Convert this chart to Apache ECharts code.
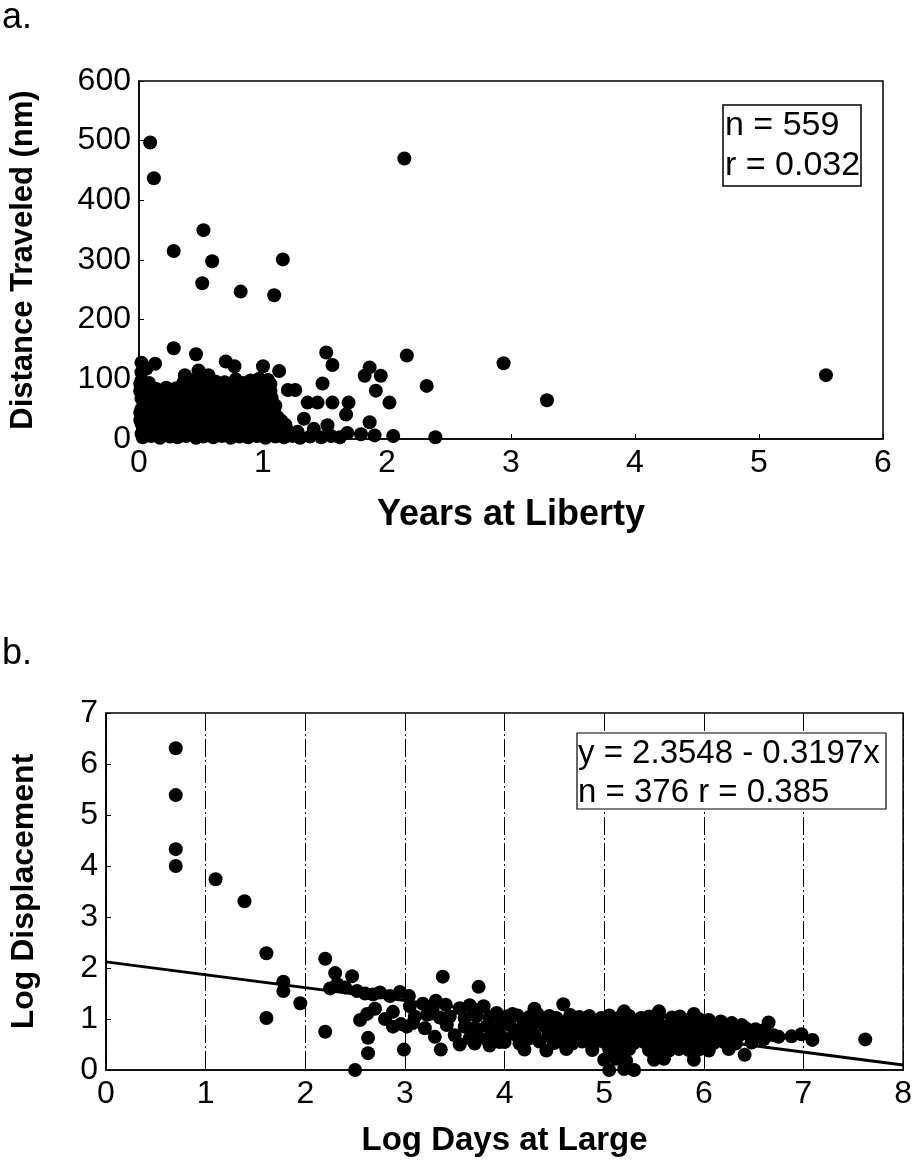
<!DOCTYPE html>
<html>
<head>
<meta charset="utf-8">
<script src="https://cdn.jsdelivr.net/npm/echarts@6/dist/echarts.min.js"></script>
<style>
  html, body { margin: 0; padding: 0; background: #fff; }
  #chart { width: 915px; height: 1166px; }
</style>
</head>
<body>
<div id="chart"></div>
<script>
// panel a: years at liberty vs distance traveled (nm)
const yearsTicksA = [0, 1, 2, 3, 4, 5, 6];
const distTicksA = [0, 100, 200, 300, 400, 500, 600];

const outliersA = [
  [0.09, 497], [0.12, 437], [2.14, 470], [0.52, 350], [0.28, 315], [0.59, 298],
  [1.16, 301], [0.51, 261], [0.82, 247], [1.09, 241], [0.28, 152], [0.46, 142],
  [1.51, 145], [1.56, 124], [2.16, 140], [0.13, 126], [0.7, 130], [0.77, 122],
  [2.94, 127], [3.29, 65], [5.54, 107], [2.32, 89], [1.86, 120], [1.82, 106],
  [1.95, 106], [1.48, 93], [1.91, 81], [2.02, 61], [1.86, 28], [1.52, 23],
  [1.67, 41], [1.69, 61], [1.56, 61], [1.44, 61], [1.36, 61], [1.2, 82], [1.26, 82],
  [1.33, 34], [1.41, 17], [1.68, 10], [1.79, 8], [1.9, 6], [2.05, 5], [2.39, 3],
  [0.02, 128], [1.0, 122], [1.13, 114], [0.37, 107], [0.48, 115], [0.56, 107]
];

const denseA = [
  [0.03, 3], [0.1, 5], [0.17, 2], [0.25, 4], [0.31, 3], [0.38, 5], [0.46, 2], [0.52, 4],
  [0.6, 3], [0.67, 5], [0.74, 2], [0.81, 4], [0.88, 3], [0.95, 5], [1.02, 2], [1.1, 4],
  [1.17, 3], [1.24, 5], [1.3, 2], [1.38, 4], [1.47, 3], [1.55, 5], [1.62, 3],
  [0.02, 9], [0.09, 8], [0.14, 10], [0.21, 9], [0.29, 8], [0.34, 10], [0.43, 9], [0.5, 8],
  [0.57, 10], [0.64, 9], [0.71, 8], [0.77, 10], [0.85, 9], [0.91, 8], [0.98, 10],
  [1.05, 9], [1.14, 8], [1.21, 9],
  [0.06, 14], [0.13, 16], [0.2, 13], [0.27, 15], [0.35, 14], [0.42, 16], [0.49, 13],
  [0.56, 15], [0.63, 14], [0.7, 16], [0.78, 13], [0.85, 15], [0.92, 14], [0.99, 16],
  [1.06, 13], [1.13, 15], [1.2, 14], [1.28, 12],
  [0.03, 20], [0.1, 21], [0.18, 19], [0.23, 21], [0.32, 20], [0.39, 19], [0.46, 21],
  [0.53, 20], [0.59, 19], [0.67, 21], [0.74, 20], [0.82, 19], [0.89, 21], [0.94, 20],
  [1.01, 19], [1.08, 21], [1.15, 19],
  [0.02, 26], [0.09, 28], [0.16, 25], [0.24, 27], [0.3, 26], [0.37, 28], [0.45, 25],
  [0.53, 27], [0.6, 26], [0.66, 28], [0.73, 25], [0.8, 27], [0.88, 26], [0.96, 28],
  [1.03, 25], [1.1, 27], [1.18, 24],
  [0.01, 32], [0.07, 33], [0.14, 31], [0.22, 33], [0.28, 32], [0.35, 31], [0.43, 33],
  [0.5, 32], [0.57, 31], [0.64, 33], [0.71, 32], [0.78, 31], [0.85, 33], [0.93, 32],
  [1.0, 31], [1.08, 33], [1.15, 30],
  [0.05, 38], [0.12, 40], [0.19, 37], [0.26, 39], [0.33, 38], [0.41, 40], [0.48, 37],
  [0.55, 39], [0.62, 38], [0.69, 40], [0.76, 37], [0.83, 39], [0.9, 38], [0.97, 40],
  [1.05, 37], [1.12, 36],
  [0.01, 44], [0.08, 45], [0.15, 43], [0.22, 45], [0.29, 44], [0.36, 43], [0.44, 45],
  [0.51, 44], [0.59, 43], [0.66, 45], [0.73, 44], [0.8, 43], [0.87, 45], [0.95, 44],
  [1.02, 43], [1.09, 45],
  [0.02, 50], [0.1, 52], [0.17, 49], [0.23, 51], [0.3, 50], [0.38, 52], [0.44, 49],
  [0.51, 51], [0.58, 50], [0.65, 52], [0.72, 49], [0.79, 51], [0.86, 50], [0.93, 52],
  [1.0, 49], [1.07, 51],
  [0.04, 56], [0.11, 57], [0.18, 55], [0.26, 57], [0.33, 56], [0.4, 55], [0.47, 57],
  [0.54, 56], [0.61, 55], [0.68, 57], [0.75, 56], [0.82, 55], [0.89, 57], [0.96, 56],
  [1.03, 55], [1.1, 56],
  [0.06, 62], [0.13, 64], [0.21, 61], [0.28, 63], [0.35, 62], [0.42, 64], [0.5, 61],
  [0.57, 63], [0.63, 62], [0.7, 64], [0.77, 61], [0.84, 63], [0.91, 62], [0.98, 64],
  [1.05, 61],
  [0.02, 68], [0.09, 69], [0.16, 67], [0.23, 69], [0.3, 68], [0.37, 67], [0.45, 69],
  [0.52, 68], [0.59, 67], [0.66, 69], [0.73, 68], [0.8, 67], [0.87, 69], [0.94, 68],
  [1.01, 67], [1.07, 69],
  [0.03, 74], [0.1, 76], [0.17, 73], [0.24, 75], [0.33, 74], [0.4, 76], [0.47, 73],
  [0.55, 75], [0.62, 74], [0.68, 76], [0.75, 73], [0.82, 75], [0.9, 74], [0.96, 76],
  [1.03, 73],
  [0.01, 80], [0.08, 79], [0.19, 80], [0.27, 81], [0.35, 79], [0.42, 80], [0.5, 81],
  [0.57, 79], [0.64, 80], [0.71, 81], [0.79, 79], [0.86, 80], [0.93, 81], [1.0, 79],
  [1.06, 80],
  [0.05, 85], [0.14, 84], [0.22, 86], [0.3, 85], [0.38, 87], [0.45, 85], [0.52, 86],
  [0.6, 88], [0.67, 86], [0.74, 87], [0.87, 88], [0.93, 86], [1.0, 87],
  [0.02, 98], [0.43, 98], [0.49, 100], [0.62, 96], [0.78, 100], [0.9, 98], [0.97, 101],
  [1.04, 99], [0.02, 112], [0.06, 118], [0.01, 92], [0.08, 94], [0.36, 95], [0.55, 93],
  [0.69, 95], [0.84, 94], [1.06, 92]
];

// panel b: log days at large vs log displacement
const logDaysTicksB = [0, 1, 2, 3, 4, 5, 6, 7, 8];
const logDispTicksB = [0, 1, 2, 3, 4, 5, 6, 7];
const fitLineB = [[0, 2.12], [8, 0.1]];

const outliersB = [
  [0.7, 6.31], [0.7, 5.39], [0.7, 4.33], [0.7, 4.0], [1.1, 3.74], [1.39, 3.31],
  [1.61, 2.29], [1.61, 1.02], [2.2, 2.18], [2.2, 0.75], [1.78, 1.73], [1.78, 1.55],
  [1.95, 1.31], [2.3, 1.9], [2.47, 1.84], [3.38, 1.83], [3.74, 1.63], [2.63, 0.63],
  [2.63, 0.33], [2.99, 0.4], [3.36, 0.4], [2.55, 0.98], [2.88, 1.14], [2.5, 0.0],
  [4.59, 1.29], [6.65, 0.93], [6.98, 0.7], [7.09, 0.59], [7.62, 0.6], [6.41, 0.3],
  [6.75, 0.65], [6.88, 0.66]
];

const denseB = [
  [2.32, 1.68], [2.4, 1.62], [2.52, 1.55], [2.6, 1.5], [2.68, 1.48], [2.75, 1.52],
  [2.85, 1.45], [2.95, 1.53], [3.04, 1.45], [2.7, 1.2], [2.62, 1.1], [2.8, 1.0],
  [2.88, 0.85], [2.96, 0.9], [3.08, 0.92], [2.25, 1.6],
  [3.05, 1.25], [3.18, 1.3], [3.31, 1.36], [3.41, 1.28], [3.55, 1.21], [3.69, 1.19],
  [3.79, 1.25], [3.92, 1.12], [3.28, 1.22], [3.65, 1.27],
  [3.1, 1.05], [3.22, 1.08], [3.35, 1.03], [3.45, 1.05], [3.6, 1.02], [3.72, 1.06],
  [3.85, 1.04], [3.97, 1.0], [3.25, 1.1],
  [3.02, 0.85], [3.2, 0.82], [3.42, 0.88], [3.6, 0.85], [3.7, 0.83], [3.82, 0.86],
  [3.94, 0.84],
  [3.3, 0.65], [3.5, 0.68], [3.65, 0.62], [3.72, 0.72], [3.82, 0.6], [3.88, 0.66],
  [3.98, 0.64], [3.55, 0.5], [3.7, 0.52], [3.85, 0.48], [3.95, 0.55],
  [4.02, 1.05], [4.08, 1.1], [4.13, 1.07], [4.25, 1.04], [4.33, 1.1], [4.45, 1.06],
  [4.52, 1.02], [4.66, 1.08], [4.75, 1.04], [4.85, 1.06], [4.97, 1.02], [5.05, 1.07],
  [5.16, 1.04], [5.25, 1.06], [5.37, 1.02], [5.45, 1.05], [5.55, 1.08], [5.68, 1.03],
  [5.76, 1.05], [5.88, 1.02], [5.95, 1.0], [6.05, 0.98], [6.17, 0.95], [6.28, 0.92],
  [4.05, 0.88], [4.18, 0.85], [4.28, 0.9], [4.4, 0.86], [4.48, 0.88], [4.6, 0.84],
  [4.7, 0.9], [4.8, 0.86], [4.92, 0.88], [5.02, 0.85], [5.12, 0.89], [5.2, 0.86],
  [5.32, 0.88], [5.42, 0.84], [5.5, 0.9], [5.62, 0.86], [5.72, 0.88], [5.82, 0.85],
  [5.92, 0.89], [6.02, 0.86], [6.12, 0.88], [6.22, 0.84], [6.3, 0.86], [6.42, 0.82],
  [6.52, 0.8], [6.6, 0.78],
  [4.1, 0.7], [4.22, 0.72], [4.3, 0.68], [4.44, 0.71], [4.55, 0.69], [4.63, 0.72],
  [4.72, 0.68], [4.83, 0.7], [4.95, 0.72], [5.08, 0.68], [5.18, 0.71], [5.28, 0.69],
  [5.35, 0.72], [5.47, 0.68], [5.58, 0.7], [5.66, 0.72], [5.78, 0.68], [5.86, 0.7],
  [5.97, 0.72], [6.08, 0.68], [6.15, 0.7], [6.25, 0.72], [6.35, 0.68], [6.45, 0.7],
  [6.55, 0.66], [6.7, 0.68],
  [4.0, 0.55], [4.15, 0.52], [4.35, 0.56], [4.5, 0.53], [4.58, 0.55], [4.68, 0.52],
  [4.78, 0.56], [4.9, 0.53], [5.0, 0.55], [5.1, 0.52], [5.22, 0.56], [5.3, 0.53],
  [5.4, 0.55], [5.52, 0.52], [5.6, 0.56], [5.7, 0.53], [5.8, 0.55], [5.9, 0.52],
  [6.0, 0.56], [6.1, 0.53], [6.2, 0.55], [6.32, 0.52], [6.48, 0.54],
  [4.2, 0.4], [4.42, 0.38], [4.62, 0.41], [4.88, 0.39], [5.05, 0.4], [5.15, 0.38],
  [5.25, 0.41], [5.45, 0.39], [5.55, 0.4], [5.65, 0.38], [5.75, 0.41], [5.85, 0.39],
  [5.95, 0.4], [6.05, 0.38], [6.25, 0.41],
  [5.0, 0.2], [5.12, 0.22], [5.22, 0.18], [5.5, 0.2], [5.6, 0.22], [5.9, 0.2],
  [5.05, 0.0], [5.2, 0.02], [5.3, 0.0],
  [4.3, 1.2], [5.2, 1.15], [5.55, 1.15], [5.9, 1.1],
  [4.38, 0.96], [4.56, 0.95], [4.78, 0.96], [5.07, 0.95], [5.28, 0.97], [5.52, 0.96],
  [5.71, 0.95], [5.98, 0.94], [6.2, 0.9], [6.38, 0.88],
  [4.25, 0.62], [4.48, 0.61], [4.74, 0.62], [4.98, 0.63], [5.2, 0.62], [5.44, 0.63],
  [5.64, 0.61], [5.84, 0.63], [6.05, 0.62], [6.28, 0.61], [6.6, 0.6]
];

const chart = echarts.init(document.getElementById('chart'));

const font = 'Liberation Sans, Arial, sans-serif';
const tickLabel = { color: '#000', fontSize: 32, fontFamily: font, margin: 8 };
const nameStyle = (size) => ({ color: '#000', fontSize: size, fontWeight: 'bold', fontFamily: font });
const axisLine = { show: true, lineStyle: { color: '#000', width: 1.5 } };
const axisTick = { show: true, inside: true, length: 5, lineStyle: { color: '#000' } };
const dot = { color: '#000', opacity: 1 };

const option = {
  animation: false,
  backgroundColor: '#fff',
  grid: [
    { left: 138, top: 81, right: 32, bottom: 727, show: true, borderColor: '#000', borderWidth: 1.5 },
    { left: 106, top: 713, right: 10, bottom: 96, show: true, borderColor: '#000', borderWidth: 1.5 }
  ],
  xAxis: [
    {
      gridIndex: 0, type: 'value', min: yearsTicksA[0], max: yearsTicksA[yearsTicksA.length - 1], interval: 1,
      name: 'Years at Liberty', nameLocation: 'middle', nameGap: 58, nameTextStyle: nameStyle(36),
      axisLine, axisTick, axisLabel: tickLabel, splitLine: { show: false }
    },
    {
      gridIndex: 1, type: 'value', min: logDaysTicksB[0], max: logDaysTicksB[logDaysTicksB.length - 1], interval: 1,
      name: 'Log Days at Large', nameLocation: 'middle', nameGap: 54, nameTextStyle: nameStyle(33),
      axisLine, axisTick, axisLabel: tickLabel,
      splitLine: { show: true, lineStyle: { color: '#000', width: 1, type: [18, 3, 2, 3] } }
    }
  ],
  yAxis: [
    {
      gridIndex: 0, type: 'value', min: distTicksA[0], max: distTicksA[distTicksA.length - 1], interval: 100,
      name: 'Distance Traveled (nm)', nameLocation: 'middle', nameGap: 100, nameTextStyle: nameStyle(31),
      axisLine, axisTick, axisLabel: tickLabel, splitLine: { show: false }
    },
    {
      gridIndex: 1, type: 'value', min: logDispTicksB[0], max: logDispTicksB[logDispTicksB.length - 1], interval: 1,
      name: 'Log Displacement', nameLocation: 'middle', nameGap: 66, nameTextStyle: nameStyle(32),
      axisLine, axisTick, axisLabel: tickLabel, splitLine: { show: false }
    }
  ],
  series: [
    { type: 'scatter', xAxisIndex: 0, yAxisIndex: 0, symbolSize: 14, itemStyle: dot, data: denseA.concat(outliersA) },
    { type: 'scatter', xAxisIndex: 1, yAxisIndex: 1, symbolSize: 14, itemStyle: dot, data: denseB.concat(outliersB) },
    {
      type: 'line', xAxisIndex: 1, yAxisIndex: 1, data: fitLineB, showSymbol: false,
      lineStyle: { color: '#000', width: 3 }, z: 3
    }
  ],
  graphic: [
    { type: 'text', left: 2, top: 0, style: { text: 'a.', fontSize: 36, fontFamily: font, fill: '#000' } },
    { type: 'text', left: 2, top: 636, style: { text: 'b.', fontSize: 36, fontFamily: font, fill: '#000' } },
    {
      type: 'rect', shape: { x: 723, y: 105, width: 138, height: 81 },
      style: { fill: '#fff', stroke: '#000', lineWidth: 1.5 }, z: 10
    },
    {
      type: 'text', x: 725, y: 106, z: 11,
      style: { text: 'n = 559\nr = 0.032', fontSize: 34, lineHeight: 40, fontFamily: font, fill: '#000' }
    },
    {
      type: 'rect', shape: { x: 577, y: 733, width: 309, height: 76 },
      style: { fill: '#fff', stroke: '#000', lineWidth: 1.2 }, z: 10
    },
    {
      type: 'text', x: 578, y: 734, z: 11,
      style: { text: 'y = 2.3548 - 0.3197x\nn = 376 r = 0.385', fontSize: 33, lineHeight: 39, fontFamily: font, fill: '#000' }
    }
  ]
};

chart.setOption(option);
</script>
</body>
</html>
